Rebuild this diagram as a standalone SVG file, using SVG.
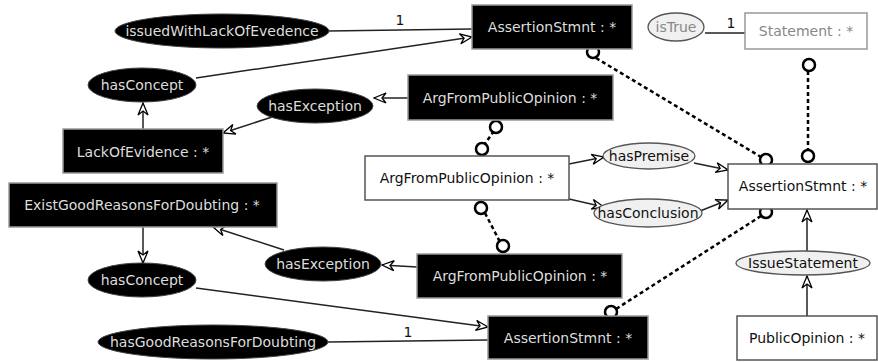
<svg xmlns="http://www.w3.org/2000/svg" width="878" height="362" viewBox="0 0 878 362">
<style>
text{font-family:"DejaVu Sans","Liberation Sans",sans-serif;font-size:14px;text-anchor:middle}
.bb{fill:#000;stroke:#999;stroke-width:1.5}
.wb{fill:#fff;stroke:#555;stroke-width:1.5}
.gb{fill:#fff;stroke:#999;stroke-width:1.5}
.be{fill:#000;stroke:#444;stroke-width:1}
.ge{fill:#f0f0f0;stroke:#555;stroke-width:1.3}
.lt{fill:#ddd}
.dk{fill:#111}
.gt{fill:#888}
.ln{stroke:#222;stroke-width:1.5;fill:none}
.ar{marker-end:url(#oa)}
.ds{stroke:#000;stroke-width:2.5;stroke-dasharray:4 3;fill:none}
.lp{fill:#fff;stroke:#000;stroke-width:2.5}
</style>
<defs>
<marker id="oa" viewBox="0 0 14 12" refX="13" refY="6" markerWidth="14" markerHeight="12" orient="auto" markerUnits="userSpaceOnUse">
<path d="M1,1 L13,6 L1,11 L5,6 Z" fill="#fff" stroke="#000" stroke-width="1.3"/>
</marker>
</defs>
<rect width="878" height="362" fill="#fff"/>
<g id="connectors">
<line class="ln" x1="328" y1="31" x2="472" y2="29"/>
<text x="400" y="25" class="dk">1</text>
<line class="ln ar" x1="196" y1="78" x2="472" y2="37"/>
<line class="ln ar" x1="143" y1="129" x2="143" y2="103"/>
<line class="ln ar" x1="272" y1="117" x2="223" y2="133"/>
<line class="ln ar" x1="408" y1="98" x2="374" y2="98"/>
<line class="ds" x1="494" y1="131" x2="484" y2="145"/>
<line class="ln ar" x1="569" y1="164" x2="604" y2="157"/>
<line class="ln ar" x1="694" y1="163" x2="728" y2="170"/>
<line class="ln ar" x1="569" y1="199" x2="604" y2="207"/>
<line class="ln ar" x1="700" y1="211" x2="728" y2="200"/>
<line class="ln" x1="705" y1="33" x2="745" y2="33"/>
<text x="731" y="28" class="dk">1</text>
<line class="ds" x1="596" y1="58" x2="761" y2="157"/>
<line class="ds" x1="808" y1="71" x2="808" y2="150"/>
<line class="ds" x1="761" y1="216" x2="616" y2="309"/>
<line class="ds" x1="485" y1="213" x2="500" y2="242"/>
<line class="ln ar" x1="807" y1="251" x2="807" y2="210"/>
<line class="ln ar" x1="807" y1="316" x2="807" y2="276"/>
<line class="ln ar" x1="143" y1="227" x2="143" y2="263"/>
<line class="ln ar" x1="284" y1="250" x2="213" y2="227"/>
<line class="ln ar" x1="417" y1="267" x2="382" y2="265"/>
<line class="ln ar" x1="196" y1="288" x2="488" y2="327"/>
<line class="ln" x1="328" y1="342" x2="488" y2="340"/>
<text x="408" y="337" class="dk">1</text>
<circle class="lp" cx="593" cy="52" r="6"/>
<circle class="lp" cx="496" cy="127" r="6"/>
<circle class="lp" cx="482" cy="149" r="6"/>
<circle class="lp" cx="766" cy="160" r="6"/>
<circle class="lp" cx="809" cy="65" r="6"/>
<circle class="lp" cx="808" cy="156" r="6"/>
<circle class="lp" cx="766" cy="212" r="6"/>
<circle class="lp" cx="611" cy="312" r="6"/>
<circle class="lp" cx="481" cy="208" r="6"/>
<circle class="lp" cx="503" cy="246" r="6"/>
</g>
<g id="n_assert_top"><rect class="bb" x="472" y="5" width="160" height="44"/><text x="552" y="32" class="lt">AssertionStmnt : *</text></g>
<g id="n_statement"><rect class="gb" x="745" y="13" width="122" height="36"/><text x="806" y="36" class="gt">Statement : *</text></g>
<g id="n_istrue"><ellipse class="ge" cx="676" cy="27" rx="28" ry="14"/><text x="676" y="32" class="gt">isTrue</text></g>
<g id="n_issued"><ellipse class="be" cx="222" cy="31" rx="107" ry="17"/><text x="222" y="36" class="lt">issuedWithLackOfEvedence</text></g>
<g id="n_hasconcept_top"><ellipse class="be" cx="142" cy="85" rx="54" ry="17"/><text x="142" y="90" class="lt">hasConcept</text></g>
<g id="n_hasexc_top"><ellipse class="be" cx="315" cy="106" rx="58" ry="17"/><text x="315" y="111" class="lt">hasException</text></g>
<g id="n_arg_top"><rect class="bb" x="408" y="75" width="205" height="45"/><text x="510" y="103" class="lt">ArgFromPublicOpinion : *</text></g>
<g id="n_lack"><rect class="bb" x="63" y="129" width="160" height="44"/><text x="143" y="157" class="lt">LackOfEvidence : *</text></g>
<g id="n_arg_mid"><rect class="wb" x="365" y="156" width="204" height="44"/><text x="467" y="183" class="dk">ArgFromPublicOpinion : *</text></g>
<g id="n_haspremise"><ellipse class="ge" cx="649" cy="156" rx="46" ry="13"/><text x="649" y="161" class="dk">hasPremise</text></g>
<g id="n_hasconclusion"><ellipse class="ge" cx="648" cy="213" rx="54" ry="14"/><text x="648" y="218" class="dk">hasConclusion</text></g>
<g id="n_assert_right"><rect class="wb" x="728" y="164" width="149" height="45"/><text x="803" y="191" class="dk">AssertionStmnt : *</text></g>
<g id="n_exist"><rect class="bb" x="9" y="183" width="268" height="44"/><text x="142" y="210" class="lt">ExistGoodReasonsForDoubting : *</text></g>
<g id="n_hasexc_bot"><ellipse class="be" cx="323" cy="264" rx="58" ry="17"/><text x="323" y="269" class="lt">hasException</text></g>
<g id="n_arg_bot"><rect class="bb" x="417" y="254" width="205" height="44"/><text x="520" y="281" class="lt">ArgFromPublicOpinion : *</text></g>
<g id="n_hasconcept_bot"><ellipse class="be" cx="142" cy="280" rx="54" ry="17"/><text x="142" y="285" class="lt">hasConcept</text></g>
<g id="n_issuestatement"><ellipse class="ge" cx="803" cy="263" rx="67" ry="12"/><text x="803" y="268" class="dk">IssueStatement</text></g>
<g id="n_hasgood"><ellipse class="be" cx="213" cy="342" rx="115" ry="17"/><text x="213" y="347" class="lt">hasGoodReasonsForDoubting</text></g>
<g id="n_assert_bot"><rect class="bb" x="488" y="316" width="160" height="43"/><text x="568" y="343" class="lt">AssertionStmnt : *</text></g>
<g id="n_publicopinion"><rect class="wb" x="737" y="316" width="140" height="44"/><text x="807" y="343" class="dk">PublicOpinion : *</text></g>
</svg>
